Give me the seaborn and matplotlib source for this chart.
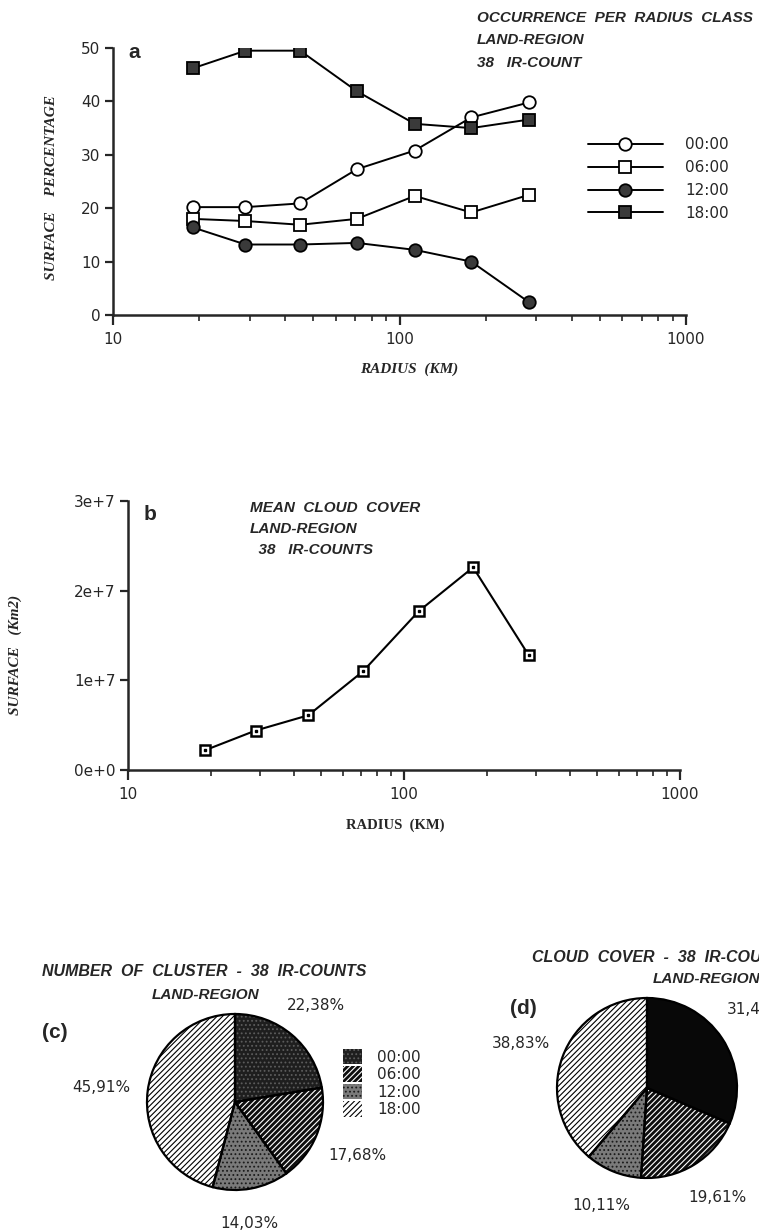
import numpy as np
import pandas as pd
import matplotlib
matplotlib.use("Agg")
import matplotlib.pyplot as plt
import seaborn as sns

# ---- data -------------------------------------------------------------
# radius classes (km)
radius_km = [19, 29, 45, 71, 113, 178, 283]
hours = ["00:00", "06:00", "12:00", "18:00"]

# surface percentage per radius class (land region, 38 IR-count)
pct_0000 = [20.2, 20.2, 20.9, 27.3, 30.8, 37.0, 39.8]
pct_0600 = [18.0, 17.6, 16.9, 18.0, 22.3, 19.2, 22.5]
pct_1200 = [16.4, 13.2, 13.2, 13.5, 12.2, 10.0, 2.4]
pct_1800 = [46.2, 49.5, 49.5, 41.9, 35.8, 35.0, 36.6]

# mean cloud cover per radius class (km2)
mean_cover_km2 = [2.2e6, 4.4e6, 6.1e6, 11.0e6, 17.7e6, 22.6e6, 12.8e6]

# share per synoptic hour (%)
cluster_share = [22.38, 17.68, 14.03, 45.91]
cover_share = [31.45, 19.61, 10.11, 38.83]

pct_yticks = [0, 10, 20, 30, 40, 50]
cover_yticks = [0, 1e7, 2e7, 3e7]
cover_yticklabels = ["0e+0", "1e+7", "2e+7", "3e+7"]
radius_ticks = [10, 100, 1000]
radius_ticklabels = ["10", "100", "1000"]

title_a = ["OCCURRENCE  PER  RADIUS  CLASS", "LAND-REGION", "38   IR-COUNT"]
title_b = ["MEAN  CLOUD  COVER", "LAND-REGION", "  38   IR-COUNTS"]

# ---- style ------------------------------------------------------------
sns.set_style("ticks")
SANS = "Liberation Sans"
SERIF = "Liberation Serif"
NUM = "DejaVu Sans"
plt.rcParams["font.family"] = [NUM]
plt.rcParams["hatch.linewidth"] = 0.8

W, H = 759, 1231
fig = plt.figure(figsize=(W / 100, H / 100), dpi=100)
fig.patch.set_facecolor("white")


def fx(px):
    return px / W


def fy(py):
    return 1 - py / H


def axes_px(left, top, right, bottom):
    return fig.add_axes([fx(left), fy(bottom), fx(right) - fx(left), fy(top) - fy(bottom)])


def style_axes(ax):
    sns.despine(ax=ax)
    for s in ("left", "bottom"):
        ax.spines[s].set_linewidth(1.8)
    ax.set_facecolor("white")
    ax.set_xscale("log")
    ax.set_xlim(10, 1000)
    ax.set_xticks(radius_ticks)
    ax.set_xticklabels(radius_ticklabels)
    ax.tick_params(axis="x", which="major", length=7, width=1.6, labelsize=11, pad=5)
    ax.tick_params(axis="x", which="minor", length=4, width=1.2)
    ax.tick_params(axis="y", which="major", length=6, width=1.6, labelsize=11, pad=3)
    ax.grid(False)


def heading(x, y, s, size=11, ha="left"):
    fig.text(fx(x), fy(y), s, family=SANS, fontsize=size, fontweight="bold",
             fontstyle="italic", va="center", ha=ha)


# ---- (a) occurrence per radius class ----------------------------------
long = pd.DataFrame({
    "radius": radius_km * 4,
    "pct": pct_0000 + pct_0600 + pct_1200 + pct_1800,
    "hour": np.repeat(hours, len(radius_km)),
})
markers = {"00:00": ("o", "white"), "06:00": ("s", "white"),
           "12:00": ("o", "#3a3a3a"), "18:00": ("s", "#3a3a3a")}

ax_a = axes_px(113, 48, 686, 315)
for h in hours:
    m, fc = markers[h]
    sns.lineplot(data=long[long["hour"] == h], x="radius", y="pct", ax=ax_a,
                 color="black", linewidth=1.4, marker=m, markersize=9,
                 markerfacecolor=fc, markeredgecolor="black",
                 markeredgewidth=1.3, errorbar=None, legend=False, label=h)
style_axes(ax_a)
ax_a.set_ylim(0, 50)
ax_a.set_yticks(pct_yticks)
ax_a.set_xlabel("")
ax_a.set_ylabel("")
ax_a.legend(loc="upper left", bbox_to_anchor=(fx(588), fy(137)),
            bbox_transform=fig.transFigure, frameon=False, fontsize=11,
            handlelength=4.9, handletextpad=1.45, labelspacing=0.52,
            borderpad=0, borderaxespad=0, numpoints=1)

fig.text(fx(128), fy(53), "a", family=SANS, fontsize=15, fontweight="bold",
         va="center", ha="left")
for i, line in enumerate(title_a):
    heading(477, 18 + 22.5 * i, line)
fig.text(fx(52), fy(188), "SURFACE    PERCENTAGE", family=SERIF, fontsize=11,
         fontweight="bold", fontstyle="italic", rotation=90, va="center", ha="center")
fig.text(fx(409), fy(369), "RADIUS  (KM)", family=SERIF, fontsize=11,
         fontweight="bold", fontstyle="italic", va="center", ha="center")

# ---- (b) mean cloud cover ---------------------------------------------
cover = pd.DataFrame({"radius": radius_km, "cover": mean_cover_km2})
ax_b = axes_px(128, 501, 680, 770)
sns.lineplot(data=cover, x="radius", y="cover", ax=ax_b, color="black",
             linewidth=1.5, marker="s", markersize=6.5, markerfacecolor="white",
             markeredgecolor="black", markeredgewidth=1.8, errorbar=None, legend=False)
ax_b.plot(cover["radius"], cover["cover"], linestyle="none", marker="s",
          markersize=1.6, color="black")
style_axes(ax_b)
ax_b.set_ylim(0, 3e7)
ax_b.set_yticks(cover_yticks)
ax_b.set_yticklabels(cover_yticklabels)
ax_b.set_xlabel("")
ax_b.set_ylabel("")

fig.text(fx(144), fy(515), "b", family=SANS, fontsize=15, fontweight="bold",
         va="center", ha="left")
for i, line in enumerate(title_b):
    heading(250, 508 + 21 * i, line)
fig.text(fx(15), fy(655), "SURFACE   (Km2)", family=SERIF, fontsize=11,
         fontweight="bold", fontstyle="italic", rotation=90, va="center", ha="center")
fig.text(fx(395), fy(825), "RADIUS  (KM)", family=SERIF, fontsize=10.5,
         fontweight="bold", va="center", ha="center")

# ---- (c) and (d) pies -------------------------------------------------
# (face, hatch, hatch colour) for 00:00, 06:00, 12:00, 18:00
fills = [("#1e1e1e", "....", "#5c5c5c"),
         ("#0e0e0e", "//////", "white"),
         ("#7a7a7a", "....", "#1a1a1a"),
         ("white", "//////", "black")]


def draw_pie(ax, shares, fills):
    wedges, _ = ax.pie(shares, startangle=90, counterclock=False, radius=1)
    for w, (fc, hatch, hc) in zip(wedges, fills):
        w.set_facecolor(fc)
        w.set_hatch(hatch)
        w.set_edgecolor(hc)
        w.set_linewidth(0)
        w.set_clip_on(False)
    outline, _ = ax.pie(shares, startangle=90, counterclock=False, radius=1,
                        wedgeprops=dict(fill=False, edgecolor="black", linewidth=1.6))
    for w in outline:
        w.set_clip_on(False)
    ax.set_xlim(-1, 1)
    ax.set_ylim(-1, 1)
    ax.set_aspect("equal")
    ax.axis("off")
    return wedges


def fmt_pct(v):
    return f"{v:.2f}%".replace(".", ",")


ax_c = axes_px(147, 1014, 323, 1190)
wedges_c = draw_pie(ax_c, cluster_share, fills)
ax_c.legend(wedges_c, hours, loc="upper left", bbox_to_anchor=(fx(343), fy(1049)),
            bbox_transform=fig.transFigure, frameon=False, fontsize=11,
            handlelength=1.25, handleheight=1.18, handletextpad=1.0,
            labelspacing=0.1, borderpad=0, borderaxespad=0)

pos_c = [(316, 1006), (357, 1155), (249, 1223), (101, 1087)]
for v, (x, y) in zip(cluster_share, pos_c):
    fig.text(fx(x), fy(y), fmt_pct(v), fontsize=11, ha="center", va="center")
heading(204, 972, "NUMBER  OF  CLUSTER  -  38  IR-COUNTS", size=11.5, ha="center")
heading(206, 995, "LAND-REGION", ha="center")
fig.text(fx(55), fy(1032), "(c)", family=SANS, fontsize=15, fontweight="bold",
         ha="center", va="center")

ax_d = axes_px(557, 998, 737, 1178)
fills_d = [("#080808", "", "#080808")] + fills[1:]
draw_pie(ax_d, cover_share, fills_d)
pos_d = [(727, 1010, "left"), (717, 1197, "center"), (601, 1205, "center"), (521, 1044, "center")]
for v, (x, y, ha) in zip(cover_share, pos_d):
    fig.text(fx(x), fy(y), fmt_pct(v), fontsize=11, ha=ha, va="center")
heading(532, 958, "CLOUD  COVER  -  38  IR-COUNTS", size=11.5)
heading(653, 979, "LAND-REGION")
fig.text(fx(523), fy(1008), "(d)", family=SANS, fontsize=15, fontweight="bold",
         ha="center", va="center")

fig.savefig("out.png", dpi=100, facecolor="white")
